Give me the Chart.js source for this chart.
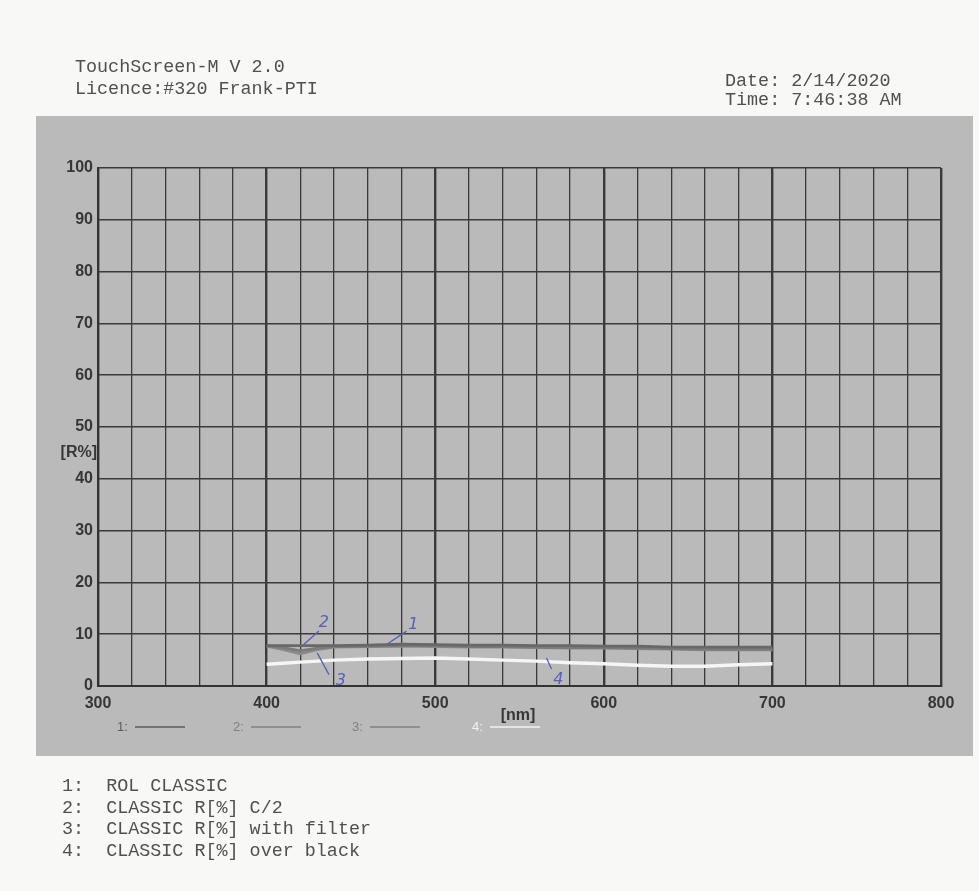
<!DOCTYPE html>
<html>
<head>
<meta charset="utf-8">
<script src="https://cdn.jsdelivr.net/npm/chart.js@4"></script>
<style>
  html, body { margin: 0; padding: 0; background: #f8f8f7; }
  #wrap { position: relative; width: 979px; height: 891px; overflow: hidden; }
  canvas { position: absolute; left: 0; top: 0; }
  .mono { position: absolute; margin: 0; font-family: "Liberation Mono", "DejaVu Sans Mono", monospace;
          font-size: 18.4px; color: #505050; white-space: pre; }
</style>
</head>
<body>
<div id="wrap">
  <canvas id="c" width="979" height="891"></canvas>
  <pre class="mono" style="left:75px;top:57px;line-height:22px;">TouchScreen-M V 2.0
Licence:#320 Frank-PTI</pre>
  <pre class="mono" style="left:725px;top:72px;line-height:19px;">Date: 2/14/2020
Time: 7:46:38 AM</pre>
  <pre class="mono" id="notes" style="left:62px;top:776px;line-height:21.5px;"></pre>
</div>
<script>
// Wavelength samples (nm) and reflectance curves (%)
const wavelengths      = [400, 410, 420, 430, 440, 460, 480, 500, 520, 540, 560, 580, 600, 620, 640, 660, 680, 700];
const rolClassic       = [7.8, 7.8, 7.8, 7.8, 7.8, 7.9, 8.1, 8.0, 7.9, 7.9, 7.8, 7.8, 7.7, 7.7, 7.5, 7.5, 7.5, 7.5];
const classicC2        = [7.8, 7.4, 6.8, 7.3, 7.6, 7.7, 7.8, 7.8, 7.6, 7.6, 7.5, 7.4, 7.4, 7.3, 7.2, 7.1, 7.1, 7.1];
const classicFilter    = [7.7, 7.0, 6.2, 7.0, 7.5, 7.6, 7.7, 7.6, 7.5, 7.5, 7.4, 7.3, 7.3, 7.2, 7.1, 7.0, 7.0, 7.0];
const classicOverBlack = [4.2, 4.4, 4.6, 4.8, 5.0, 5.2, 5.3, 5.4, 5.2, 5.0, 4.8, 4.5, 4.3, 4.0, 3.8, 3.8, 4.1, 4.3];

const seriesNames  = ['ROL CLASSIC', 'CLASSIC R[%] C/2', 'CLASSIC R[%] with filter', 'CLASSIC R[%] over black'];
const seriesColors = ['#686868', '#7a7a7a', '#8a8a8a', '#f6f6f6'];
const xRange = [300, 800];
const yRange = [0, 100];

// Hand-written curve numbers: label point and pointer stroke, in data units
const penNotes = [
  { text: '1', at: [487, 11.8], from: [472, 8.2], to: [483, 10.6] },
  { text: '2', at: [434, 12.2], from: [422, 8.0], to: [431, 10.6] },
  { text: '3', at: [444, 0.9],  from: [430, 6.4], to: [437, 2.2] },
  { text: '4', at: [573, 1.2],  from: [566, 5.4], to: [569, 3.3] }
];

document.getElementById('notes').textContent =
  seriesNames.map((n, i) => (i + 1) + ':  ' + n).join('\n');

const toPoints = vals => wavelengths.map((w, i) => ({ x: w, y: vals[i] }));
const seriesValues = [rolClassic, classicC2, classicFilter, classicOverBlack];

const datasets = seriesValues.map((vals, i) => ({
  label: (i + 1) + ': ' + seriesNames[i],
  data: toPoints(vals),
  borderColor: seriesColors[i],
  borderWidth: i === 3 ? 3.4 : 2.8,
  pointRadius: 0,
  tension: 0,
  fill: false
}));

const printout = {
  id: 'printout',
  beforeDraw(chart) {
    const ctx = chart.ctx;
    ctx.save();
    ctx.fillStyle = '#f8f8f7';
    ctx.fillRect(0, 0, chart.width, chart.height);
    ctx.fillStyle = '#bababa';
    ctx.fillRect(36, 116, 937, 640);
    ctx.restore();
  },
  afterDatasetsDraw(chart) {
    const ctx = chart.ctx;
    const xs = chart.scales.x, ys = chart.scales.y;
    const area = chart.chartArea;
    ctx.save();

    // axis captions
    ctx.fillStyle = '#363636';
    ctx.font = 'bold 16px "Liberation Sans Narrow", "Liberation Sans", sans-serif';
    ctx.textAlign = 'right';
    ctx.textBaseline = 'middle';
    ctx.fillText('[R%]', area.left - 1, ys.getPixelForValue(45));
    ctx.textAlign = 'center';
    ctx.fillText('[nm]', 518, 716);

    // inner series key
    const keyX = [117, 233, 352, 472];
    ctx.font = '13px "Liberation Sans", sans-serif';
    ctx.textAlign = 'left';
    seriesNames.forEach((n, i) => {
      const c = i === 3 ? '#f2f2f2' : (i === 0 ? '#5a5a5a' : '#808080');
      ctx.fillStyle = c;
      ctx.fillText((i + 1) + ':', keyX[i], 727);
      ctx.strokeStyle = c;
      ctx.lineWidth = 1.4;
      ctx.beginPath();
      ctx.moveTo(keyX[i] + 18, 727);
      ctx.lineTo(keyX[i] + 68, 727);
      ctx.stroke();
    });

    // pen annotations
    ctx.strokeStyle = '#5560b8';
    ctx.fillStyle = '#5560b8';
    ctx.lineWidth = 1.3;
    ctx.font = 'italic 16px "DejaVu Sans", sans-serif';
    ctx.textAlign = 'center';
    penNotes.forEach(p => {
      ctx.beginPath();
      ctx.moveTo(xs.getPixelForValue(p.from[0]), ys.getPixelForValue(p.from[1]));
      ctx.lineTo(xs.getPixelForValue(p.to[0]), ys.getPixelForValue(p.to[1]));
      ctx.stroke();
      ctx.fillText(p.text, xs.getPixelForValue(p.at[0]), ys.getPixelForValue(p.at[1]));
    });
    ctx.restore();
  }
};

const tickFont = { family: '"Liberation Sans Narrow", "Liberation Sans", sans-serif', size: 16, weight: 'bold' };

new Chart(document.getElementById('c'), {
  type: 'line',
  data: { datasets },
  options: {
    responsive: false,
    animation: false,
    events: [],
    layout: { padding: { left: 0, right: 38, top: 168, bottom: 0 } },
    plugins: { legend: { display: false }, tooltip: { enabled: false }, title: { display: false } },
    scales: {
      x: {
        type: 'linear',
        min: xRange[0], max: xRange[1],
        afterFit: s => { s.height = 205; },
        border: { display: true, color: '#333', width: 2 },
        grid: {
          color: '#3a3a3a',
          drawTicks: false,
          lineWidth: c => (c.tick && c.tick.value % 100 === 0) ? 2.4 : 1.3
        },
        ticks: {
          stepSize: 20,
          autoSkip: false,
          maxRotation: 0,
          padding: 8,
          color: '#363636',
          font: tickFont,
          callback: v => (v % 100 === 0 ? String(v) : '')
        }
      },
      y: {
        min: yRange[0], max: yRange[1],
        afterFit: s => { s.width = 98; },
        border: { display: true, color: '#333', width: 2 },
        grid: { color: '#3a3a3a', drawTicks: false, lineWidth: 1.5 },
        ticks: { stepSize: 10, padding: 5, color: '#363636', font: tickFont }
      }
    }
  },
  plugins: [printout]
});
</script>
</body>
</html>
